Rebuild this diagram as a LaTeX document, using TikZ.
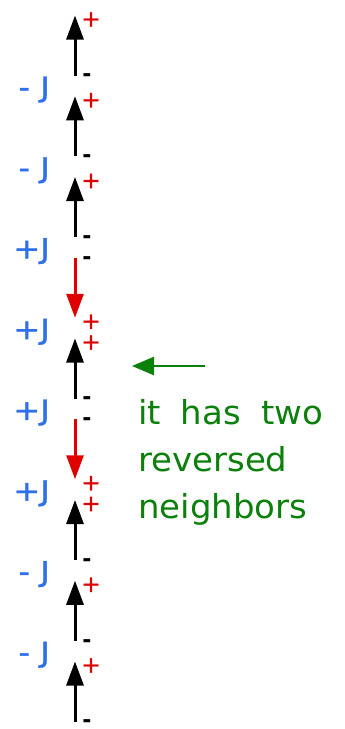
\documentclass[tikz,border=0pt]{standalone}
\usepackage{fontspec}
\setmainfont{DejaVu Sans}
\newfontfamily\noteface[WordSpace=1.85,FakeStretch=1.03]{DejaVu Sans}
\newfontfamily\jface[FakeStretch=1.15,FakeBold=1.2]{DejaVu Sans}
\newfontfamily\signface[FakeBold=1.2]{DejaVu Sans}
\usetikzlibrary{arrows.meta}
\definecolor{spinred}{HTML}{E00000}
\definecolor{jblue}{HTML}{2F6FEA}
\definecolor{notegreen}{HTML}{0B800B}

\begin{document}
\begin{tikzpicture}[x=1pt,y=-1pt,
  spin/.style={line width=3pt,-{Triangle[length=24pt,width=17pt]}},
  plus/.style={spinred,inner sep=0pt,font=\signface\fontsize{23}{23}\selectfont},
  minus/.style={inner sep=0pt,font=\bfseries\fontsize{22}{22}\selectfont},
  coupling/.style={jblue,anchor=east,inner sep=0pt,font=\jface\fontsize{28}{28}\selectfont}]
\useasboundingbox (0,0) rectangle (345,729);
\foreach \i/\s/\c in {1/1/black,2/1/black,3/1/black,4/-1/spinred,5/1/black,6/-1/spinred,7/1/black,8/1/black,9/1/black}{
  \coordinate (t\i) at (75,{45.5+(\i-1)*80.75+30*\s});
  \coordinate (h\i) at (75,{45.5+(\i-1)*80.75-30*\s});
  \draw[spin,\c] (t\i) -- (h\i);
  \node[minus] (m\i) at ([xshift=12pt,yshift=-2.5pt]t\i) {-};
  \node[plus] (p\i) at ([xshift=16pt,yshift=-4pt]h\i) {+};
}
\foreach \k/\l in {1/{- J},2/{- J},3/{+J},4/{+J},5/{+J},6/{+J},7/{- J},8/{- J}}
  \node[coupling] (j\k) at (50,{89.5+(\k-1)*80.75}) {\l};
\coordinate (gt) at (205,366);
\coordinate (gh) at (132,366);
\draw[notegreen,line width=2.5pt,-{Triangle[length=22pt,width=18pt]}] (gt) -- (gh);
\node[notegreen,anchor=north west,align=left,inner sep=0pt,font=\noteface\fontsize{33}{47}\selectfont] (note) at (138,399) {it has two\\reversed\\neighbors};
\end{tikzpicture}
\end{document}
